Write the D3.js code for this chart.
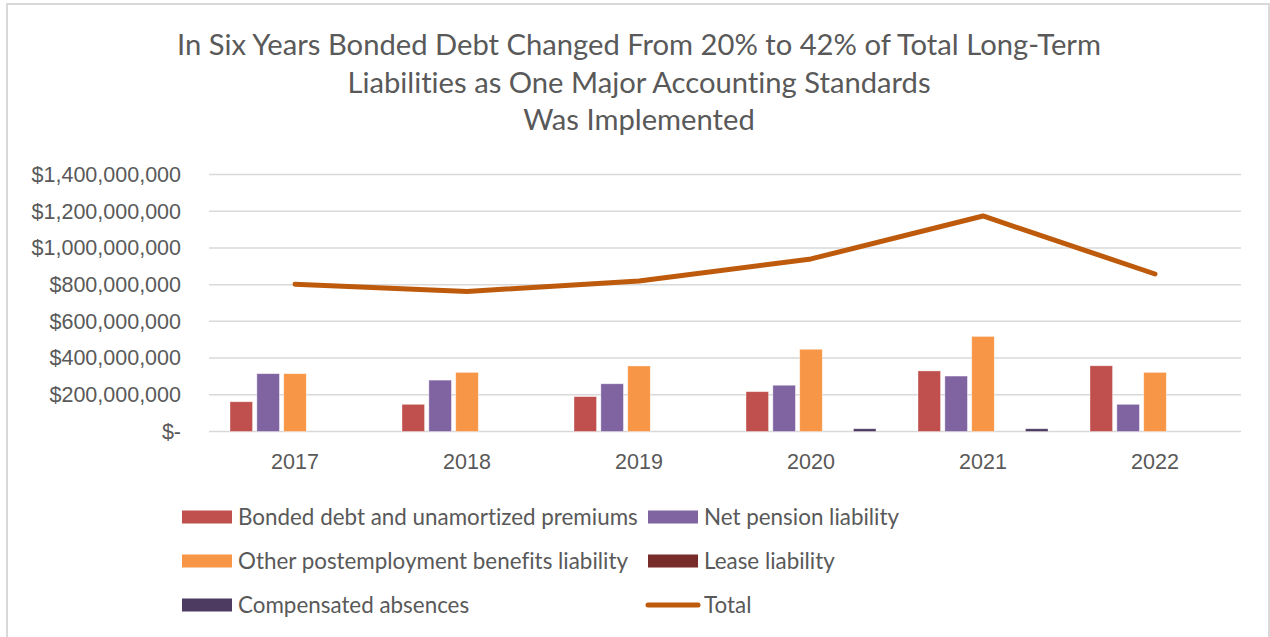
<!DOCTYPE html>
<html lang="en">

<head>
  <meta charset="UTF-8" />
  <title>Long-Term Liabilities 2017-2022</title>
  <script src="https://d3js.org/d3.v7.min.js"></script>
  <style>
    body {
      margin: 0;
      background: #fff;
      font-family: Lato, "Open Sans", Arial, sans-serif;
      font-variant-ligatures: none;
    }

    text {
      font-variant-ligatures: none;
    }

    .axis-label {
      fill: #595959;
      font-size: 21.5px;
    }

    .legend-label {
      fill: #595959;
      font-size: 22.4px;
    }

    .title {
      fill: #595959;
      font-size: 29.2px;
    }
  </style>
</head>

<body>
  <div id="chart"></div>
  <script>
    // Data
    const years = ["2017", "2018", "2019", "2020", "2021", "2022"];
    const seriesNames = [
      "Bonded debt and unamortized premiums",
      "Net pension liability",
      "Other postemployment benefits liability",
      "Lease liability",
      "Compensated absences"
    ];
    const bondedDebt = [162e6, 148e6, 190e6, 217e6, 330e6, 358e6];
    const netPension = [315e6, 280e6, 260e6, 252e6, 302e6, 148e6];
    const opeb = [315e6, 322e6, 357e6, 448e6, 518e6, 322e6];
    const lease = [0, 0, 0, 0, 0, 0];
    const compAbsences = [0, 0, 0, 15e6, 15e6, 0];
    const total = [802e6, 763e6, 820e6, 940e6, 1174e6, 858e6];
    const yTicks = [0, 200e6, 400e6, 600e6, 800e6, 1000e6, 1200e6, 1400e6];

    const barSeries = [bondedDebt, netPension, opeb, lease, compAbsences];
    const colors = ["#C0504D", "#8064A2", "#F79646", "#772C2A", "#4D3B62"];
    const lineColor = "#BE5A0B";

    const titleLines = [
      "In Six Years Bonded Debt Changed From 20% to 42% of Total Long-Term",
      "Liabilities as One Major Accounting Standards",
      "Was Implemented"
    ];

    const width = 1270, height = 637;
    const svg = d3.select("#chart").append("svg")
      .attr("width", width)
      .attr("height", height);

    // outer chart border
    svg.append("rect")
      .attr("x", 7).attr("y", 4)
      .attr("width", 1262).attr("height", 700)
      .attr("fill", "#fff")
      .attr("stroke", "#d9d9d9")
      .attr("stroke-width", 2);

    // title
    svg.append("g")
      .selectAll("text")
      .data(titleLines)
      .join("text")
      .attr("class", "title")
      .attr("x", 639)
      .attr("y", (d, i) => 55 + i * 37.5)
      .attr("text-anchor", "middle")
      .text(d => d);

    const x = d3.scaleBand()
      .domain(years)
      .range([209, 1241]);

    const xInner = d3.scaleBand()
      .domain(d3.range(seriesNames.length))
      .range([21, 151])
      .paddingInner(0.16);

    const y = d3.scaleLinear()
      .domain([0, 1400e6])
      .range([431.5, 174.5]);

    // gridlines
    svg.append("g")
      .selectAll("line")
      .data(yTicks)
      .join("line")
      .attr("x1", 209).attr("x2", 1241)
      .attr("y1", d => y(d)).attr("y2", d => y(d))
      .attr("stroke", "#d9d9d9")
      .attr("stroke-width", 1.5);

    // y axis labels
    const fmt = d => d === 0 ? "$-" : "$" + d3.format(",")(d);
    svg.append("g")
      .attr("transform", "translate(181,0)")
      .call(d3.axisLeft(y).tickValues(yTicks).tickFormat(fmt).tickSize(0).tickPadding(0))
      .call(g => g.select(".domain").remove())
      .call(g => g.selectAll("text")
        .attr("class", "axis-label")
        .attr("font-family", null)
        .attr("font-size", null)
        .attr("fill", null));

    // x axis labels
    svg.append("g")
      .attr("transform", "translate(0,446)")
      .call(d3.axisBottom(x).tickSize(0).tickPadding(0))
      .call(g => g.select(".domain").remove())
      .call(g => g.selectAll("text")
        .attr("class", "axis-label")
        .attr("dy", "1.05em")
        .attr("font-family", null)
        .attr("font-size", null)
        .attr("fill", null));

    // bars
    const barData = [];
    barSeries.forEach((vals, s) => {
      vals.forEach((v, i) => barData.push({ year: years[i], s, v }));
    });

    svg.append("g")
      .selectAll("rect")
      .data(barData.filter(d => d.v > 0))
      .join("rect")
      .attr("x", d => x(d.year) + xInner(d.s))
      .attr("y", d => y(d.v))
      .attr("width", xInner.bandwidth())
      .attr("height", d => y(0) - y(d.v))
      .attr("fill", d => colors[d.s])
      .attr("stroke", "#fff")
      .attr("stroke-opacity", 0.5)
      .attr("stroke-width", 0.75);

    // total line
    const line = d3.line()
      .x((d, i) => x(years[i]) + x.bandwidth() / 2)
      .y(d => y(d));

    svg.append("path")
      .datum(total)
      .attr("d", line)
      .attr("fill", "none")
      .attr("stroke", lineColor)
      .attr("stroke-width", 5)
      .attr("stroke-linecap", "round")
      .attr("stroke-linejoin", "round");

    // legend
    const legendItems = seriesNames.map((name, i) => ({ name, color: colors[i], type: "bar" }));
    legendItems.push({ name: "Total", color: lineColor, type: "line" });
    const colX = [182, 648];
    const rowY = [517, 561, 605];

    const legend = svg.append("g")
      .selectAll("g")
      .data(legendItems)
      .join("g")
      .attr("transform", (d, i) => `translate(${colX[i % 2]},${rowY[Math.floor(i / 2)]})`);

    legend.filter(d => d.type === "bar")
      .append("rect")
      .attr("x", 0).attr("y", -6.5)
      .attr("width", 50).attr("height", 13)
      .attr("fill", d => d.color);

    legend.filter(d => d.type === "line")
      .append("line")
      .attr("x1", 0).attr("x2", 50)
      .attr("y1", 0).attr("y2", 0)
      .attr("stroke", d => d.color)
      .attr("stroke-width", 5)
      .attr("stroke-linecap", "round");

    legend.append("text")
      .attr("class", "legend-label")
      .attr("x", 56)
      .attr("dy", "0.35em")
      .text(d => d.name);
  </script>
</body>

</html>
